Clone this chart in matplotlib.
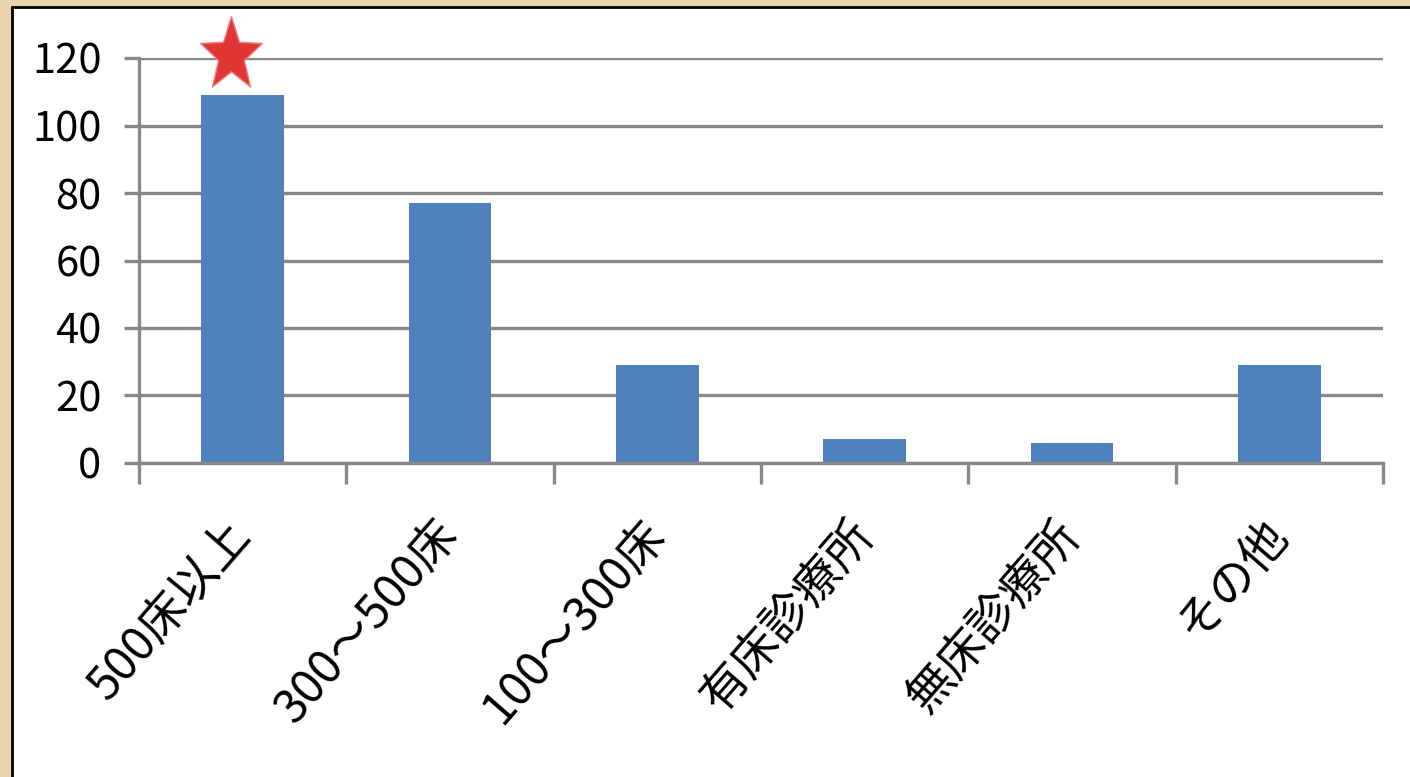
import matplotlib
matplotlib.use("Agg")
import matplotlib.pyplot as plt
import matplotlib.transforms as mtransforms
from matplotlib.patches import Rectangle
from matplotlib.path import Path
import numpy as np

plt.rcParams['font.family'] = ['Noto Sans CJK JP', 'DejaVu Sans']

# data
categories = ['500床以上', '300～500床', '100～300床', '有床診療所', '無床診療所', 'その他']
counts = [109, 77, 29, 7, 6, 29]
yticks = [0, 20, 40, 60, 80, 100, 120]
star_index = 0  # highlighted category

grid_col = '#888888'
bar_col = '#4f81bd'

fig = plt.figure(figsize=(14.1, 7.77), dpi=100)
fig.patch.set_facecolor('#e9d5aa')

# white panel with black frame (behind the axes)
panel = Rectangle((12 / 1410, -0.05), 1.1, 1 - 7 / 777 + 0.05,
                  transform=fig.transFigure, facecolor='white',
                  edgecolor='black', linewidth=2, zorder=-1)
fig.add_artist(panel)

ax = fig.add_axes([139 / 1410, 1 - 463 / 777, (1383 - 139) / 1410, (463 - 58) / 777])
ax.set_zorder(1)
ax.set_facecolor('white')

x = np.arange(len(categories))
ax.bar(x, counts, width=0.4, color=bar_col, zorder=3)

ax.set_xlim(-0.5, len(categories) - 0.5)
ax.set_ylim(0, 120)

# horizontal gridlines
ax.set_yticks(yticks)
ax.yaxis.grid(True, color=grid_col, linewidth=2.4, zorder=1)
ax.set_axisbelow(True)
ax.tick_params(axis='y', length=11, width=2.4, color=grid_col, pad=16, labelsize=30)

# x ticks at category boundaries, labels at centres
ax.set_xticks(np.arange(len(categories) + 1) - 0.5)
ax.set_xticklabels([])
ax.tick_params(axis='x', which='major', length=15, width=2.4, color=grid_col)
ax.set_xticks(x, minor=True)
ax.set_xticklabels(categories, minor=True, rotation=49, ha='right', va='center',
                   rotation_mode='anchor', fontsize=34)
ax.tick_params(axis='x', which='minor', length=0, pad=46)

for s in ['top', 'right']:
    ax.spines[s].set_visible(False)
for s in ['left', 'bottom']:
    ax.spines[s].set_color(grid_col)
    ax.spines[s].set_linewidth(2.4)
ax.spines['bottom'].set_zorder(4)

# red star above the first bar (slightly taller than wide, as in the picture)
star = Path.unit_regular_star(5, 0.42)
star = Path(star.vertices * [1.0, 1.2], star.codes)
offset = mtransforms.ScaledTranslation(-12 / 100, 40 / 100, fig.dpi_scale_trans)
ax.plot([x[star_index]], [counts[star_index]], marker=star, markersize=56,
        color='#e03636', markeredgecolor='#f08080', markeredgewidth=1,
        transform=ax.transData + offset, clip_on=False, zorder=5)

fig.savefig('out.png', dpi=100, facecolor=fig.get_facecolor())
